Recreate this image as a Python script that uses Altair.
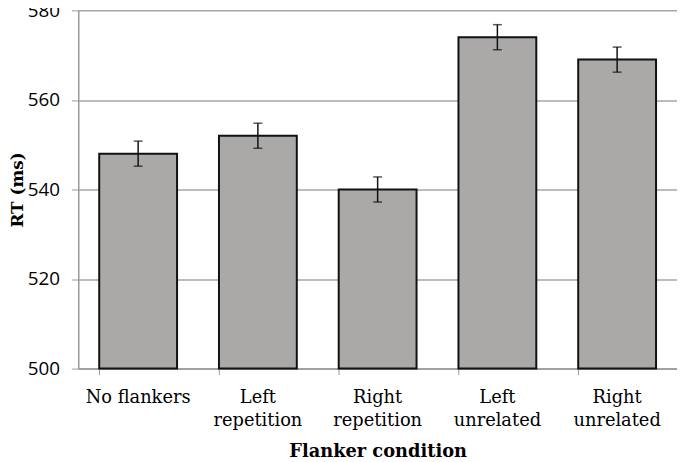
import altair as alt
import pandas as pd

conditions = ["No flankers", "Left repetition", "Right repetition", "Left unrelated", "Right unrelated"]
rt = [548, 552, 540, 574, 569]
err = [2.8, 2.8, 2.8, 2.8, 2.8]

df = pd.DataFrame({
    "cond": conditions,
    "rt": rt,
    "lo": [r - e for r, e in zip(rt, err)],
    "hi": [r + e for r, e in zip(rt, err)],
})

xenc = alt.X("cond:N", sort=conditions, title="Flanker condition",
             scale=alt.Scale(paddingInner=0.35, paddingOuter=0.175),
             axis=alt.Axis(labelAngle=0, bandPosition=0, ticks=True, tickSize=6,
                           tickColor="#999999", domainColor="#999999", domainWidth=1.5,
                           labelFont="DejaVu Serif", labelFontSize=18, labelColor="#000000",
                           labelPadding=14, labelLineHeight=24,
                           labelExpr="datum.label == 'No flankers' ? datum.label : split(datum.label, ' ')",
                           titleFont="DejaVu Serif", titleFontSize=18, titleFontWeight="bold",
                           titleColor="#000000", titlePadding=13, grid=False))

yaxis = alt.Axis(values=[500, 520, 540, 560, 580], tickSize=7, tickColor="#999999",
                 domainColor="#999999", domainWidth=1.5, gridColor="#a6a6a6", gridWidth=1.5,
                 labelFont="Open Sans", labelFontSize=19, labelColor="#000000", labelPadding=12,
                 titleFont="DejaVu Serif", titleFontSize=17, titleFontWeight="bold",
                 titleColor="#000000", titlePadding=1)

bars = alt.Chart(df).mark_bar(color="#aba8a8", stroke="#111111", strokeWidth=2).encode(
    x=xenc,
    y=alt.Y("rt:Q", title="RT (ms)",
            scale=alt.Scale(domain=[500, 580], nice=False, zero=False),
            axis=yaxis),
    y2=alt.datum(500),
)

errs = alt.Chart(df).mark_errorbar(ticks=alt.MarkConfig(size=9, color="#111111", strokeWidth=1.5),
                                   color="#111111", thickness=1.5).encode(
    x=alt.X("cond:N", sort=conditions),
    y=alt.Y("lo:Q", title="RT (ms)"),
    y2="hi:Q",
)

chart = alt.layer(bars, errs).properties(
    width=605, height=362,
    autosize=alt.AutoSizeParams(type="none"),
    padding={"left": 71, "top": 0, "right": 0, "bottom": 92},
).configure_view(stroke=None)

chart.save("out.html", embed_options={"renderer": "svg", "actions": False})
